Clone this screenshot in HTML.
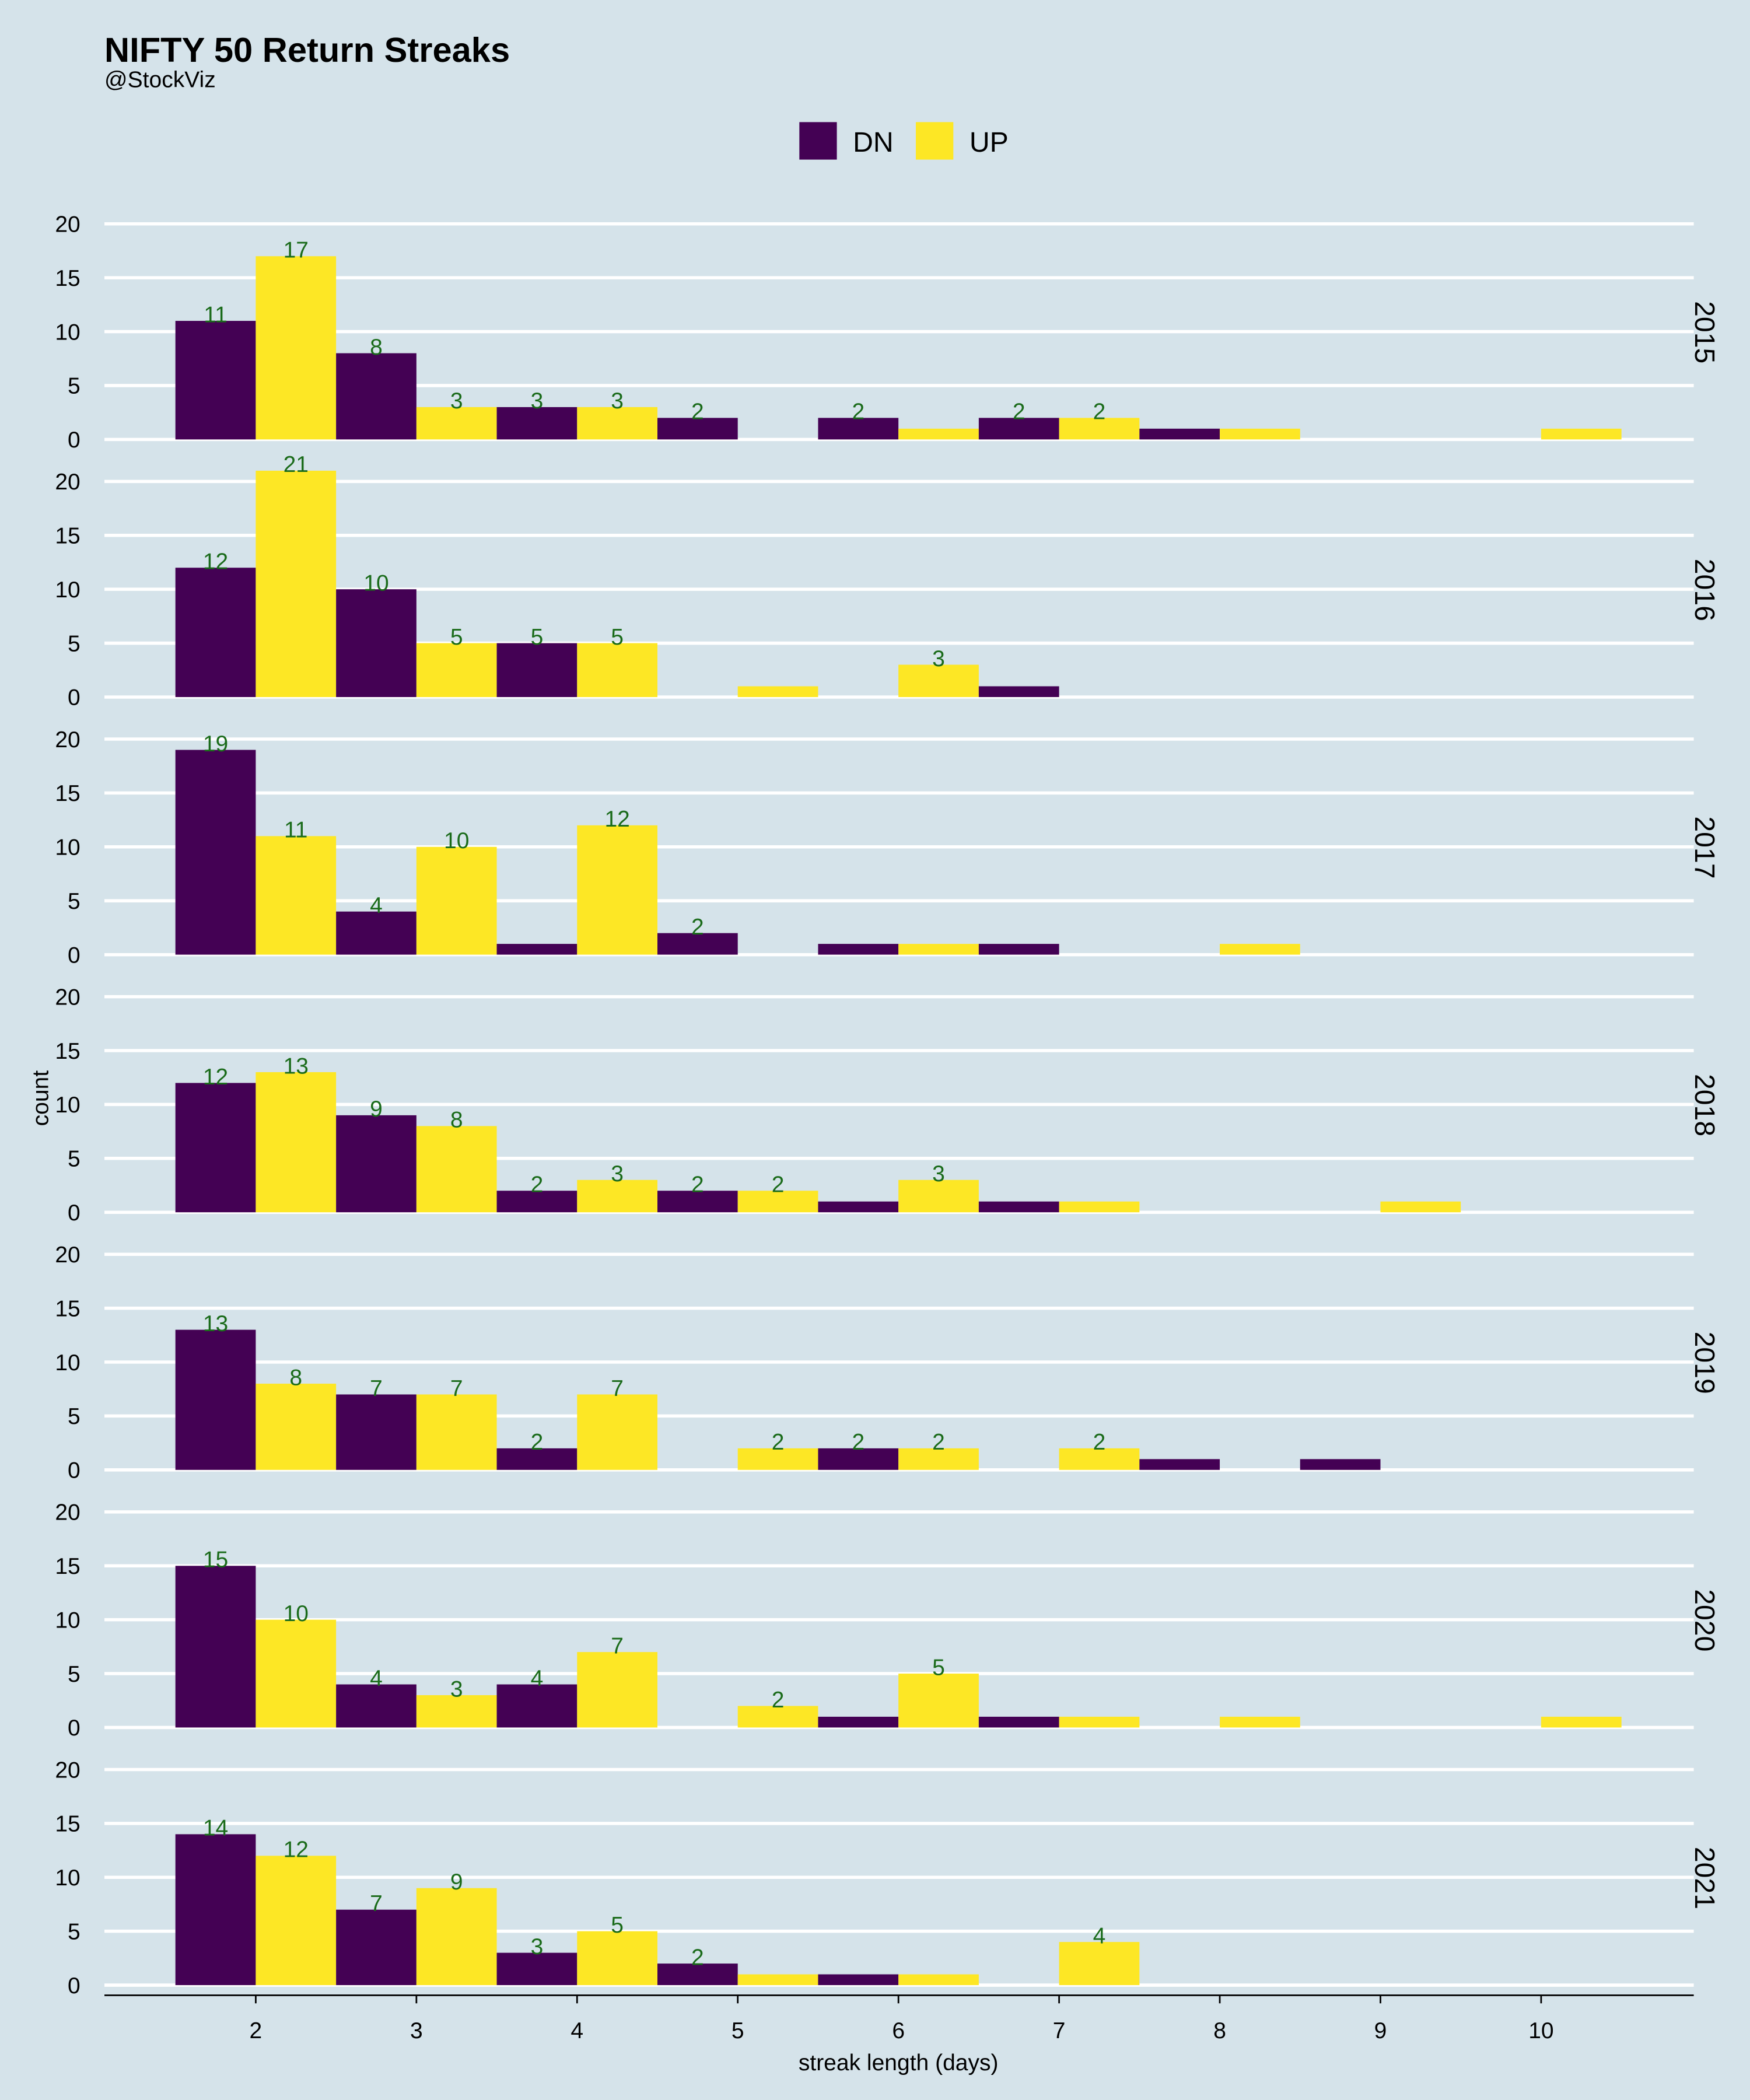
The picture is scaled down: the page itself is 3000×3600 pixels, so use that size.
<!DOCTYPE html>
<html><head><meta charset="utf-8">
<style>
html,body{margin:0;padding:0;background:#d5e3ea;}
svg{display:block;font-family:"Liberation Sans",Arial,sans-serif;}
</style></head>
<body>
<svg id="chart" width="3000" height="3600" viewBox="0 0 1307 1568" xmlns="http://www.w3.org/2000/svg">
<rect x="0" y="0" width="1307" height="1568" fill="#d5e3ea"/>
<text x="78" y="46" font-size="26" font-weight="bold" fill="#000">NIFTY 50 Return Streaks</text>
<text x="78" y="65" font-size="17" fill="#000">@StockViz</text>
<rect x="597" y="91" width="28" height="28" fill="#440154"/>
<text x="637" y="113" font-size="21">DN</text>
<rect x="684" y="91" width="28" height="28" fill="#FDE725"/>
<text x="724" y="113" font-size="21">UP</text>
<g id="panels"></g>
<line x1="78" y1="1490" x2="1265" y2="1490" stroke="#000" stroke-width="1.2"/>
<g id="xaxis"></g>
<text x="671" y="1546" font-size="17" text-anchor="middle">streak length (days)</text>
<text x="36" y="820" font-size="17" text-anchor="middle" transform="rotate(-90 36 820)">count</text>
</svg>
<script>
const years = ["2015","2016","2017","2018","2019","2020","2021"];
const lengths = [2,3,4,5,6,7,8,9,10];
const dn2015 = [11,8,3,2,2,2,1,0,0];
const up2015 = [17,3,3,0,1,2,1,0,1];
const dn2016 = [12,10,5,0,0,1,0,0,0];
const up2016 = [21,5,5,1,3,0,0,0,0];
const dn2017 = [19,4,1,2,1,1,0,0,0];
const up2017 = [11,10,12,0,1,0,1,0,0];
const dn2018 = [12,9,2,2,1,1,0,0,0];
const up2018 = [13,8,3,2,3,1,0,1,0];
const dn2019 = [13,7,2,0,2,0,1,1,0];
const up2019 = [8,7,7,2,2,2,0,0,0];
const dn2020 = [15,4,4,0,1,1,0,0,0];
const up2020 = [10,3,7,2,5,1,1,0,1];
const dn2021 = [14,7,3,2,1,0,0,0,0];
const up2021 = [12,9,5,1,1,4,0,0,0];
const dnSeries = [dn2015,dn2016,dn2017,dn2018,dn2019,dn2020,dn2021];
const upSeries = [up2015,up2016,up2017,up2018,up2019,up2020,up2021];
const yTicks = [0,5,10,15,20];
const xTicks = [2,3,4,5,6,7,8,9,10];

const NS = "http://www.w3.org/2000/svg";
const xScale = v => 191 + (v - 2) * 120;
const panelBase = i => 328 + i * 192.4;
const yScale = (i, v) => panelBase(i) - v * 8.05;
const halfW = 60;

function mk(tag, attrs){ const e=document.createElementNS(NS,tag); for(const k in attrs) e.setAttribute(k,attrs[k]); return e; }

const panels = document.getElementById('panels');
years.forEach((yr, i) => {
  const g = mk('g', {});
  
  
  yTicks.forEach(t => {
    const y = yScale(i, t);
    const gl = mk('line', {x1:78, x2:1265, y1:y, y2:y, stroke:'#fff', 'stroke-width':2.4});
    
    
    g.appendChild(gl);
    const tl = mk('text', {x:60, y:y+6, 'font-size':17, 'text-anchor':'end'});
    tl.textContent = t;
    
    
    g.appendChild(tl);
  });
  const labels = [];
  lengths.forEach((len, j) => {
    [[dnSeries[i][j], '#440154', -halfW, 'dn'], [upSeries[i][j], '#FDE725', 0, 'up']].forEach(([v, col, off, nm]) => {
      if (!v) return;
      const top = yScale(i, v), base = yScale(i, 0);
      const r = mk('rect', {x:xScale(len)+off, y:top, width:halfW, height:base-top, fill:col});
      
      
      g.appendChild(r);
      if (v > 1) {
        const t = mk('text', {x:xScale(len)+off+halfW/2, y:top+1, 'font-size':17, 'text-anchor':'middle', fill:'#1a6b1a'});
        t.textContent = v;
        
        
        labels.push(t);
      }
    });
  });
  labels.forEach(l => g.appendChild(l));
  const cy = panelBase(i) - 80;
  const s = mk('text', {x:1266, y:cy, 'font-size':21, 'text-anchor':'middle', transform:'rotate(90 1266 '+cy+')'});
  s.textContent = yr;
  
  
  g.appendChild(s);
  panels.appendChild(g);
});

const xa = document.getElementById('xaxis');
xTicks.forEach(t => {
  const x = xScale(t);
  const tk = mk('line', {x1:x, x2:x, y1:1490, y2:1496, stroke:'#000', 'stroke-width':1.2});
  
  
  xa.appendChild(tk);
  const tl = mk('text', {x:x, y:1522, 'font-size':17, 'text-anchor':'middle'});
  tl.textContent = t;
  
  
  xa.appendChild(tl);
});
</script>
</body></html>
